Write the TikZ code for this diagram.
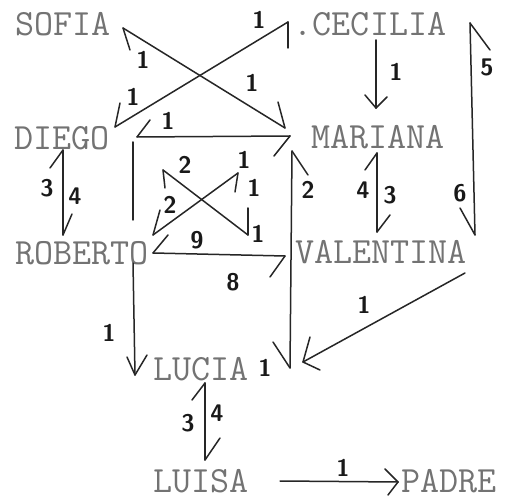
\documentclass[tikz,border=0pt]{standalone}
\begin{document}
\begin{tikzpicture}[x=1pt,y=-1pt,
  pname/.style={inner sep=0pt, text=black!55, font=\fontsize{37}{37}\selectfont\ttfamily},
  conn/.style={draw=black!85, line width=1.5pt, line cap=round, line join=round},
  lab/.style={inner sep=0pt, text=black!90, font=\fontsize{24}{24}\selectfont\sffamily\bfseries}]
\useasboundingbox[fill=white] (0,0) rectangle (506,502);
% names
\node[pname] (sofia) at (63,24) {SOFIA};
\node[pname] (cecilia) at (370,24) {.CECILIA};
\node[pname] (diego) at (62,138) {DIEGO};
\node[pname] (mariana) at (378,137) {MARIANA};
\node[pname] (roberto) at (82,253) {ROBERTO};
\node[pname] (valentina) at (381,252) {VALENTINA};
\node[pname] (lucia) at (201,369) {LUCIA};
\node[pname] (luisa) at (201,481) {LUISA};
\node[pname] (padre) at (449,481) {PADRE};
% endpoints
\coordinate (sofM) at (123,28);  \coordinate (marS) at (285,128);
\coordinate (cecD) at (288,22);  \coordinate (dieC) at (115,127);
\coordinate (dieM) at (137,137); \coordinate (marD) at (290,136);
\coordinate (dieR) at (63,150);  \coordinate (robD) at (63,235);
\coordinate (dieL) at (133,142); \coordinate (gapA) at (133,220);
\coordinate (gapB) at (133,263); \coordinate (lucD) at (135,375);
\coordinate (marL) at (292,151); \coordinate (lucM) at (290,368);
\coordinate (cecM) at (376,40);  \coordinate (marC) at (376,108);
\coordinate (marV) at (377,153); \coordinate (valM) at (377,232);
\coordinate (cecV) at (470,23);  \coordinate (valC) at (475,235);
\coordinate (valL) at (465,273); \coordinate (lucV) at (303,362);
\coordinate (robV) at (153,253); \coordinate (valR) at (285,256);
\coordinate (xa1) at (163,170);  \coordinate (xa2) at (248,235);
\coordinate (xb1) at (153,235);  \coordinate (xb2) at (238,173);
\coordinate (lucL) at (205,383); \coordinate (luiL) at (205,460);
\coordinate (luiP) at (280,481); \coordinate (padL) at (398,482);
% SOFIA - MARIANA
\draw[conn] (sofM) -- (marS);
\draw[conn] (sofM) -- ++(7,22);
\draw[conn] (marS) -- ++(-7,-26);
\node[lab] (l1) at (143,60) {1};
\node[lab] (l2) at (252,83) {1};
% CECILIA - DIEGO
\draw[conn] (cecD) -- (dieC);
\draw[conn] (cecD) -- ++(0,26);
\draw[conn] (dieC) -- ++(5,-24);
\node[lab] (l3) at (259,20) {1};
\node[lab] (l4) at (133,97) {1};
% DIEGO - MARIANA
\draw[conn] (dieM) -- (marD);
\draw[conn] (dieM) -- ++(13,-17);
\draw[conn] (marD) -- ++(-16,20);
\node[lab] (l5) at (168,121) {1};
% DIEGO - ROBERTO
\draw[conn] (dieR) -- (robD);
\draw[conn] (dieR) -- ++(-13,18);
\draw[conn] (robD) -- ++(9,-21);
\node[lab] (l6) at (47,188) {3};
\node[lab] (l7) at (75,196) {4};
% DIEGO -> LUCIA
\draw[conn] (dieL) -- (gapA);
\draw[conn] (gapB) -- (lucD);
\draw[conn] (lucD) -- ++(-8,-18);
\draw[conn] (lucD) -- ++(12,-20);
\node[lab] (l8) at (109,333) {1};
% MARIANA - LUCIA
\draw[conn] (marL) -- (lucM);
\draw[conn] (marL) -- ++(16,24);
\draw[conn] (lucM) -- ++(-17,-26);
\node[lab] (l9) at (308,190) {2};
\node[lab] (l10) at (265,368) {1};
% CECILIA -> MARIANA
\draw[conn] (cecM) -- (marC);
\draw[conn] (marC) -- ++(-11,-13);
\draw[conn] (marC) -- ++(11,-11);
\node[lab] (l11) at (396,72) {1};
% MARIANA - VALENTINA
\draw[conn] (marV) -- (valM);
\draw[conn] (marV) -- ++(-12,17);
\draw[conn] (valM) -- ++(13,-17);
\node[lab] (l12) at (363,190) {4};
\node[lab] (l13) at (390,195) {3};
% CECILIA - VALENTINA
\draw[conn] (cecV) -- (valC);
\draw[conn] (cecV) -- ++(20,27);
\draw[conn] (valC) -- ++(-15,-27);
\node[lab] (l14) at (487,67) {5};
\node[lab] (l15) at (460,193) {6};
% VALENTINA -> LUCIA
\draw[conn] (valL) -- (lucV);
\draw[conn] (lucV) -- ++(7,-25);
\draw[conn] (lucV) -- ++(17,8);
\node[lab] (l16) at (364,305) {1};
% ROBERTO - VALENTINA
\draw[conn] (robV) -- (valR);
\draw[conn] (robV) -- ++(15,-18);
\draw[conn] (valR) -- ++(-15,21);
\node[lab] (l17) at (197,240) {9};
\node[lab] (l18) at (233,282) {8};
% X
\draw[conn] (xa1) -- (xa2);
\draw[conn] (xa1) -- ++(2,18);
\draw[conn] (xa2) -- ++(0,-27);
\draw[conn] (xb1) -- (xb2);
\draw[conn] (xb1) -- ++(7,-25);
\draw[conn] (xb2) -- ++(-3,19);
\node[lab] (l19) at (185,165) {2};
\node[lab] (l20) at (170,205) {2};
\node[lab] (l21) at (244,160) {1};
\node[lab] (l22) at (254,188) {1};
\node[lab] (l23) at (258,234) {1};
% LUCIA - LUISA
\draw[conn] (lucL) -- (luiL);
\draw[conn] (lucL) -- ++(-13,17);
\draw[conn] (luiL) -- ++(15,-22);
\node[lab] (l24) at (188,423) {3};
\node[lab] (l25) at (217,413) {4};
% LUISA -> PADRE
\draw[conn] (luiP) -- (padL);
\draw[conn] (padL) -- ++(-13,-13);
\draw[conn] (padL) -- ++(-10,13);
\node[lab] (l26) at (343,468) {1};
\end{tikzpicture}
\end{document}
